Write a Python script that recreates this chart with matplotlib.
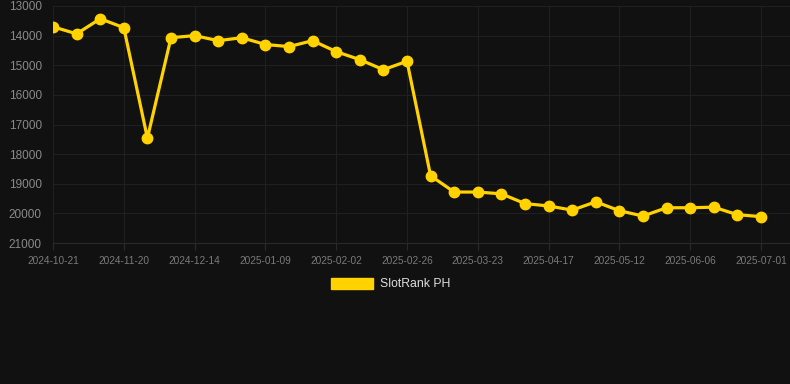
import matplotlib
matplotlib.use("Agg")
from matplotlib import pyplot as plt
from matplotlib.patches import Patch

plt.rcParams['font.family'] = ['Liberation Sans', 'DejaVu Sans']

# rank values, one point per snapshot (31 points)
ranks = [13700, 13940, 13430, 13730, 17460, 14070, 14000, 14170, 14070, 14300,
         14370, 14170, 14540, 14810, 15150, 14865, 18730, 19280, 19280, 19340,
         19670, 19750, 19890, 19610, 19910, 20090, 19810, 19810, 19790, 20045,
         20110]
tick_labels = ['2024-10-21', '2024-11-20', '2024-12-14', '2025-01-09', '2025-02-02',
               '2025-02-26', '2025-03-23', '2025-04-17', '2025-05-12', '2025-06-06',
               '2025-07-01']
y_ticks = [13000, 14000, 15000, 16000, 17000, 18000, 19000, 20000, 21000]
series_name = 'SlotRank PH'

bg = '#111111'
gold = '#FFD200'

fig = plt.figure(figsize=(7.9, 3.84), dpi=100, facecolor=bg)
ax = fig.add_axes([53/790, 141/384, 737/790, 237/384], facecolor=bg)

x = list(range(len(ranks)))
ax.plot(x, ranks, color=gold, lw=2.3, marker='o', ms=7.5, zorder=3)

ax.set_ylim(21000, 13000)
ax.set_xlim(0, 737/708*30)
ax.set_yticks(y_ticks)
ax.set_yticklabels([str(v) for v in y_ticks])
ax.set_xticks(x[::3])
ax.set_xticklabels(tick_labels)

ax.grid(True, color='#202020', lw=0.8)
ax.set_axisbelow(True)
for s in ['top', 'right', 'left']:
    ax.spines[s].set_visible(False)
ax.spines['bottom'].set_color('#2a2a2a')
ax.tick_params(axis='y', length=0, pad=8, labelsize=8.5, labelcolor='#8a8a8a')
ax.tick_params(axis='x', length=5, color='#2a2a2a', pad=4, labelsize=7.3, labelcolor='#7a7a7a')

fig.legend(handles=[Patch(facecolor=gold, edgecolor=gold)], labels=[series_name],
           loc='center', bbox_to_anchor=(391/790, 1 - 284/384), frameon=False,
           handlelength=3.4, handleheight=1.0, handletextpad=0.6,
           fontsize=8.8, labelcolor='#dddddd')

fig.savefig('out.png', dpi=100, facecolor=bg)
